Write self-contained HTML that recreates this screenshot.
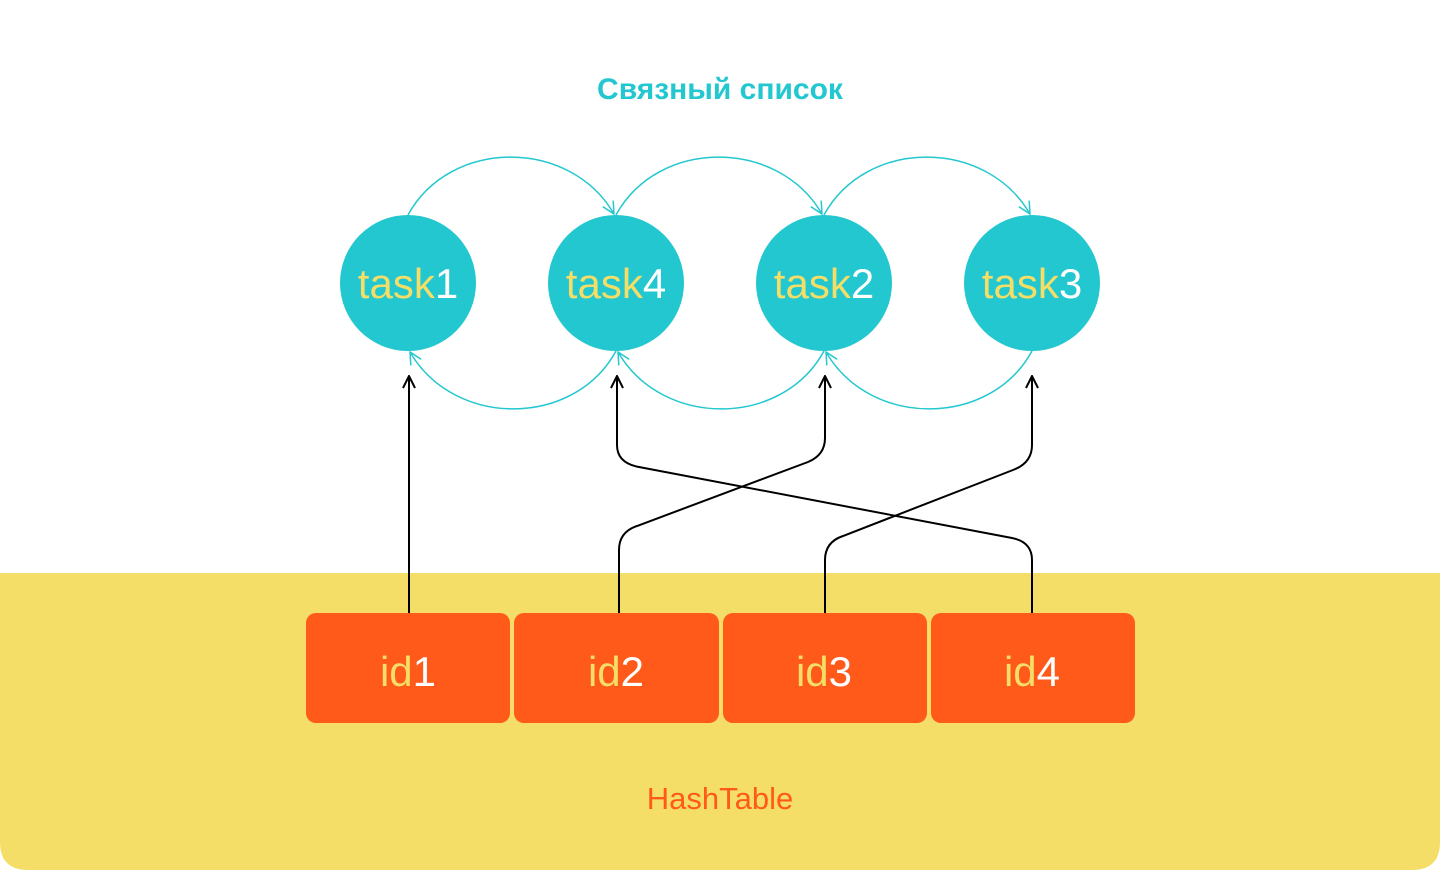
<!DOCTYPE html>
<html><head><meta charset="utf-8">
<style>
html,body{margin:0;padding:0;background:#fff;}
svg{display:block;font-family:"Liberation Sans",sans-serif;}
</style></head>
<body>
<svg width="1440" height="870" viewBox="0 0 1440 870">
  <defs>
    <marker id="arT" viewBox="0 0 14 14" refX="13" refY="7" markerWidth="14" markerHeight="14" markerUnits="userSpaceOnUse" orient="auto">
      <path d="M1,1 L13,7 L1,13" fill="none" stroke="#22c7cf" stroke-width="1.5"/>
    </marker>
    <marker id="arK" viewBox="0 0 14 14" refX="13" refY="7" markerWidth="14" markerHeight="14" markerUnits="userSpaceOnUse" orient="auto">
      <path d="M1,1 L13,7 L1,13" fill="none" stroke="#000" stroke-width="2"/>
    </marker>
  </defs>
  <path d="M0,573 H1440 V842 Q1440,870 1412,870 H28 Q0,870 0,842 Z" fill="#f4de68"/>
  <text x="720" y="99" text-anchor="middle" font-size="30" font-weight="bold" fill="#22c7cf">Связный список</text>
  <text x="720" y="809" text-anchor="middle" font-size="31" fill="#ff5a1a">HashTable</text>

  <g fill="none" stroke="#22c7cf" stroke-width="1.5">
    <path d="M408,215 C450,138 570,138 614,214" marker-end="url(#arT)"/>
    <path d="M616,215 C658,138 778,138 822,214" marker-end="url(#arT)"/>
    <path d="M824,215 C866,138 986,138 1030,214" marker-end="url(#arT)"/>
    <path d="M616,351 C574,428 454,428 410,352" marker-end="url(#arT)"/>
    <path d="M824,351 C782,428 662,428 618,352" marker-end="url(#arT)"/>
    <path d="M1032,351 C990,428 870,428 826,352" marker-end="url(#arT)"/>
  </g>

  <g fill="none" stroke="#000" stroke-width="2">
    <path d="M409,613 V376" marker-end="url(#arK)"/>
    <path d="M619,613 V550 Q619,532 637,526 L808,462 Q825,455 825,438 V376" marker-end="url(#arK)"/>
    <path d="M825,613 V560 Q825,542 843,536 L1013,470 Q1032,463 1032,445 V376" marker-end="url(#arK)"/>
    <path d="M1032,613 V560 Q1032,542 1012,538 L639,467 Q617,463 617,445 V376" marker-end="url(#arK)"/>
  </g>

  <g>
    <circle cx="408" cy="283" r="68" fill="#22c7cf"/>
    <text x="408" y="298" text-anchor="middle" font-size="42" fill="#f4de68">task<tspan fill="#fff">1</tspan></text>
  </g>
  <g>
    <circle cx="616" cy="283" r="68" fill="#22c7cf"/>
    <text x="616" y="298" text-anchor="middle" font-size="42" fill="#f4de68">task<tspan fill="#fff">4</tspan></text>
  </g>
  <g>
    <circle cx="824" cy="283" r="68" fill="#22c7cf"/>
    <text x="824" y="298" text-anchor="middle" font-size="42" fill="#f4de68">task<tspan fill="#fff">2</tspan></text>
  </g>
  <g>
    <circle cx="1032" cy="283" r="68" fill="#22c7cf"/>
    <text x="1032" y="298" text-anchor="middle" font-size="42" fill="#f4de68">task<tspan fill="#fff">3</tspan></text>
  </g>

  <g>
    <rect x="306" y="613" width="204" height="110" rx="10" fill="#ff5a1a"/>
    <text x="408" y="686" text-anchor="middle" font-size="42" fill="#f4de68">id<tspan fill="#fff">1</tspan></text>
  </g>
  <g>
    <rect x="514" y="613" width="205" height="110" rx="10" fill="#ff5a1a"/>
    <text x="616" y="686" text-anchor="middle" font-size="42" fill="#f4de68">id<tspan fill="#fff">2</tspan></text>
  </g>
  <g>
    <rect x="723" y="613" width="204" height="110" rx="10" fill="#ff5a1a"/>
    <text x="824" y="686" text-anchor="middle" font-size="42" fill="#f4de68">id<tspan fill="#fff">3</tspan></text>
  </g>
  <g>
    <rect x="931" y="613" width="204" height="110" rx="10" fill="#ff5a1a"/>
    <text x="1032" y="686" text-anchor="middle" font-size="42" fill="#f4de68">id<tspan fill="#fff">4</tspan></text>
  </g>
</svg>
</body></html>
